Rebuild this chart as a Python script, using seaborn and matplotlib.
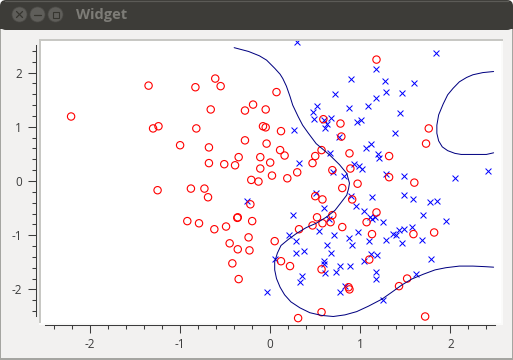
import numpy as np
import matplotlib
matplotlib.use('Agg')
import matplotlib.pyplot as plt
from matplotlib.patches import Circle, FancyBboxPatch, Rectangle
from matplotlib.ticker import FixedLocator, FuncFormatter
import seaborn as sns

# class 1 samples
red_x = [-2.21, -1.35, -1.30, -1.24, -1.00, -0.83, -0.82, -0.61, -0.55, -0.66, -0.28, -0.19, -0.68, -0.28, -0.68, -0.51, -0.39, -0.35,
         0.07, -0.05, -0.08, -0.05, 0.12, -0.04, 0.11, 0.16, -0.11, -0.11, 0.00, 0.02, 0.19, 0.30, 0.47, 0.50, 0.57, 0.59, 0.78, 0.79,
         0.88, 0.69, 0.89, 1.18, 1.76, 1.73, 1.32, 1.32, 1.60, 0.97, -0.21, -0.13, 0.80, 0.50, 0.58, 0.91, 1.18, 0.69, 0.52, 0.47, 0.58,
         0.67, 0.80, 0.32, 1.07, 1.13, 1.59, 1.82, 0.05, 0.12, 0.22, 0.57, 1.10, 1.52, 1.43, 0.87, 0.88, 0.57, 0.31, 1.72,
         -1.25, -0.88, -0.73, -0.69, -0.92, -0.79, -0.62, -0.49, -0.36, -0.365, -0.22, -0.20, -0.24, -0.45, -0.36, -0.23, -0.42, -0.35]
red_y = [1.19, 1.76, 0.97, 1.01, 0.66, 1.73, 0.97, 1.89, 1.75, 1.32, 1.30, 1.41, 0.62, 0.75, 0.33, 0.31, 0.29, 0.44,
         1.64, 1.32, 1.01, 0.99, 0.92, 0.69, 0.57, 0.47, 0.44, 0.23, 0.34, 0.10, 0.05, 0.16, 0.33, 0.46, 0.57, 1.14, 1.06, 0.82,
         0.51, 0.20, 0.23, 2.24, 0.97, 0.69, 0.46, 0.07, -0.03, -0.05, 0.02, -0.01, -0.13, -0.28, -0.34, -0.34, -0.58, -0.63, -0.67, -0.82, -0.78,
         -0.76, -0.85, -0.89, -0.76, -0.98, -0.98, -0.95, -1.11, -1.48, -1.57, -1.63, -1.45, -1.80, -1.94, -1.96, -2.00, -2.42, -2.53, -2.50,
         -0.17, -0.14, -0.14, -0.30, -0.74, -0.78, -0.89, -0.84, -0.67, -0.68, -0.43, -0.74, -1.04, -1.15, -1.26, -1.28, -1.52, -1.81]

# class 2 samples
blue_x = [0.30, 1.84, 1.17, 0.90, 1.27, 1.60, 0.72, 1.28, 1.46, 1.18, 1.09, 0.88, 0.52, 0.48, 1.44, 0.49, 0.67, 0.63, 0.60, 0.61,
          1.01, 0.96, 0.26, 1.38, 0.76, 1.12, 1.06, 1.20, 1.21, 0.66, 0.32, 0.93, 0.99, 1.02, 0.70, 0.82, 1.28, 1.49, 2.05, 2.42,
          0.51, 0.90, 1.13, 1.48, 1.58, 1.77, 1.85, 0.60, 0.95, 1.04, 0.25, 1.70, 1.11, 1.16, 1.13, 0.65, 1.25, 1.95, 0.54, 1.57,
          1.49, 1.43, 1.36, 1.40, 0.98, 0.21, 0.71, 0.29, 0.87, 1.10, 1.29, 1.69, 1.46, 0.63, 0.91, 0.29, 0.38, 0.67, 1.12, 1.19,
          1.04, 1.79, 0.05, 0.60, 0.60, 0.77, 0.89, 0.73, 0.61, 1.18, 1.18, 1.62, 0.35, 0.33, 0.83, 0.77, -0.03, 1.25, -0.26]
blue_y = [2.56, 2.37, 2.06, 1.89, 1.84, 1.80, 1.60, 1.65, 1.62, 1.53, 1.38, 1.34, 1.38, 1.27, 1.25, 1.14, 1.17, 1.06, 1.12, 0.97,
          1.12, 1.08, 0.95, 0.88, 0.82, 0.69, 0.60, 0.49, 0.42, 0.51, 0.33, 0.31, 0.27, 0.22, 0.16, 0.10, 0.12, 0.10, 0.05, 0.18,
          -0.23, -0.27, -0.30, -0.25, -0.34, -0.39, -0.36, -0.50, -0.47, -0.56, -0.62, -0.63, -0.67, -0.67, -0.71, -0.71, -0.76, -0.74, -0.93, -0.84,
          -0.89, -0.91, -0.97, -1.00, -0.95, -1.00, -1.00, -1.10, -1.06, -1.10, -1.08, -1.08, -1.15, -1.19, -1.19, -1.33, -1.30, -1.32, -1.35, -1.37,
          -1.48, -1.43, -1.43, -1.48, -1.54, -1.57, -1.57, -1.67, -1.69, -1.67, -1.80, -1.72, -1.76, -1.87, -1.93, -2.05, -2.04, -2.20, -0.36]

# decision boundary, two pieces
curve_a_x = [-0.40, -0.24, -0.12, -0.04, 0.05, 0.11, 0.14, 0.18, 0.22, 0.25, 0.31, 0.36, 0.42, 0.51, 0.66, 0.77, 0.85, 0.87,
             0.88, 0.87, 0.85, 0.79, 0.72, 0.62, 0.51, 0.40, 0.29, 0.20, 0.12, 0.08, 0.05, 0.05, 0.07, 0.11, 0.16, 0.23, 0.33, 0.44,
             0.57, 0.70, 0.83, 0.96, 1.09, 1.24, 1.36, 1.46, 1.57, 1.70, 1.83, 1.95, 2.10, 2.25, 2.38, 2.48]
curve_a_y = [2.46, 2.39, 2.31, 2.23, 2.08, 1.97, 1.89, 1.75, 1.56, 1.40, 1.19, 1.03, 0.89, 0.69, 0.48, 0.30, 0.14, 0.02,
             -0.04, -0.14, -0.26, -0.39, -0.54, -0.67, -0.78, -0.86, -0.97, -1.08, -1.19, -1.33, -1.49, -1.64, -1.80, -1.96, -2.10, -2.23, -2.34, -2.43,
             -2.48, -2.50, -2.47, -2.41, -2.31, -2.18, -2.04, -1.92, -1.81, -1.72, -1.64, -1.60, -1.57, -1.57, -1.58, -1.59]
curve_b_x = [2.48, 2.36, 2.25, 2.18, 2.10, 2.03, 1.97, 1.92, 1.87, 1.85, 1.85, 1.87, 1.91, 1.97, 2.05, 2.12, 2.25, 2.40, 2.48]
curve_b_y = [2.02, 2.00, 1.96, 1.91, 1.83, 1.71, 1.59, 1.42, 1.22, 1.03, 0.88, 0.74, 0.63, 0.56, 0.51, 0.49, 0.49, 0.49, 0.52]

major_ticks = [-2, -1, 0, 1, 2]
minor_ticks = [-2.4, -2.2, -1.8, -1.6, -1.4, -1.2, -0.8, -0.6, -0.4, -0.2,
               0.2, 0.4, 0.6, 0.8, 1.2, 1.4, 1.6, 1.8, 2.2, 2.4]

sns.set_style('white')
plt.rcParams['font.family'] = ['Open Sans', 'DejaVu Sans']
plt.rcParams['axes.unicode_minus'] = False

W, H = 513, 360
fig = plt.figure(figsize=(W / 100, H / 100), dpi=100, facecolor='white')

# window chrome in pixel coordinates
chrome = fig.add_axes([0, 0, 1, 1], zorder=0)
chrome.set_xlim(0, W)
chrome.set_ylim(H, 0)
chrome.axis('off')
chrome.add_patch(Rectangle((0, 25), W, H - 25, fc='#a5a5a1', ec='none'))
chrome.add_patch(Rectangle((1, 25), W - 2, H - 27, fc='#f2f1f0', ec='none'))
chrome.add_patch(FancyBboxPatch((6, 6), W - 12, 18, boxstyle='round,pad=6,rounding_size=6', fc='#3d3c38', ec='none'))
chrome.add_patch(Rectangle((0, 12), W, 17, fc='#3d3c38', ec='none'))
chrome.plot([5, W - 5], [0.7, 0.7], color='#5c5b57', lw=0.9)
for cx in [19.5, 37.5, 55.5]:
    chrome.add_patch(Circle((cx, 14.5), 7.5, fc='#5f5e5a', ec='#4c4b47', lw=0.5))
chrome.plot([16.5, 22.5], [11.5, 17.5], color='#36352f', lw=0.9)
chrome.plot([16.5, 22.5], [17.5, 11.5], color='#36352f', lw=0.9)
chrome.plot([34, 41], [14.5, 14.5], color='#36352f', lw=0.9)
chrome.add_patch(Rectangle((52.5, 11.5), 6, 6, fc='none', ec='#36352f', lw=0.8))
chrome.text(76, 15, 'Widget', fontsize=10.5, fontweight='bold', color='#7d7c77', va='center', ha='left')

# sunken frame around the canvas
chrome.add_patch(Rectangle((39, 39), 464, 286, fc='#fbfbfa', ec='none'))
chrome.add_patch(Rectangle((39, 39), 464, 2, fc='#c8c8c4', ec='none'))
chrome.add_patch(Rectangle((39, 39), 2, 284, fc='#c8c8c4', ec='none'))

# canvas: white area spans 41..501 by 41..323 px
ax = fig.add_axes([41 / W, 1 - 323 / H, 460 / W, 282 / H], zorder=1)
ax.set_facecolor('white')

sns.scatterplot(x=blue_x, y=blue_y, marker='x', color='#0000ff', s=18, linewidth=0.72, ax=ax, zorder=2)
sns.scatterplot(x=red_x, y=red_y, marker='o', facecolor='none', edgecolor='#ff0000', s=28, linewidth=0.8, ax=ax, zorder=3)
sns.lineplot(x=curve_a_x, y=curve_a_y, sort=False, estimator=None, color='#000080', linewidth=0.72, ax=ax, zorder=4)
sns.lineplot(x=curve_b_x, y=curve_b_y, sort=False, estimator=None, color='#000080', linewidth=0.72, ax=ax, zorder=4)

ax.set_xlim(-2.544, 2.562)
ax.set_ylim(-2.620, 2.583)

for name in ['top', 'right']:
    ax.spines[name].set_visible(False)
ax.spines['left'].set_position(('outward', 3.6))
ax.spines['bottom'].set_position(('outward', 1.5))
for name in ['left', 'bottom']:
    ax.spines[name].set_bounds(-2.5, 2.5)
    ax.spines[name].set_color('#3c3c3c')
    ax.spines[name].set_linewidth(0.75)

for axis in [ax.xaxis, ax.yaxis]:
    axis.set_major_locator(FixedLocator(major_ticks))
    axis.set_minor_locator(FixedLocator(minor_ticks))
    axis.set_major_formatter(FuncFormatter(lambda v, p: '%d' % v))
ax.tick_params(which='major', direction='out', length=5.8, width=0.75, color='#3c3c3c', labelcolor='#3c3c3c', labelsize=8.5,
               left=True, bottom=True)
ax.tick_params(which='minor', direction='out', length=2.9, width=0.75, color='#3c3c3c', left=True, bottom=True)
ax.tick_params(axis='x', which='major', pad=3.6)
ax.tick_params(axis='y', which='major', pad=4.3)

fig.savefig('out.png', dpi=100, facecolor=fig.get_facecolor())
